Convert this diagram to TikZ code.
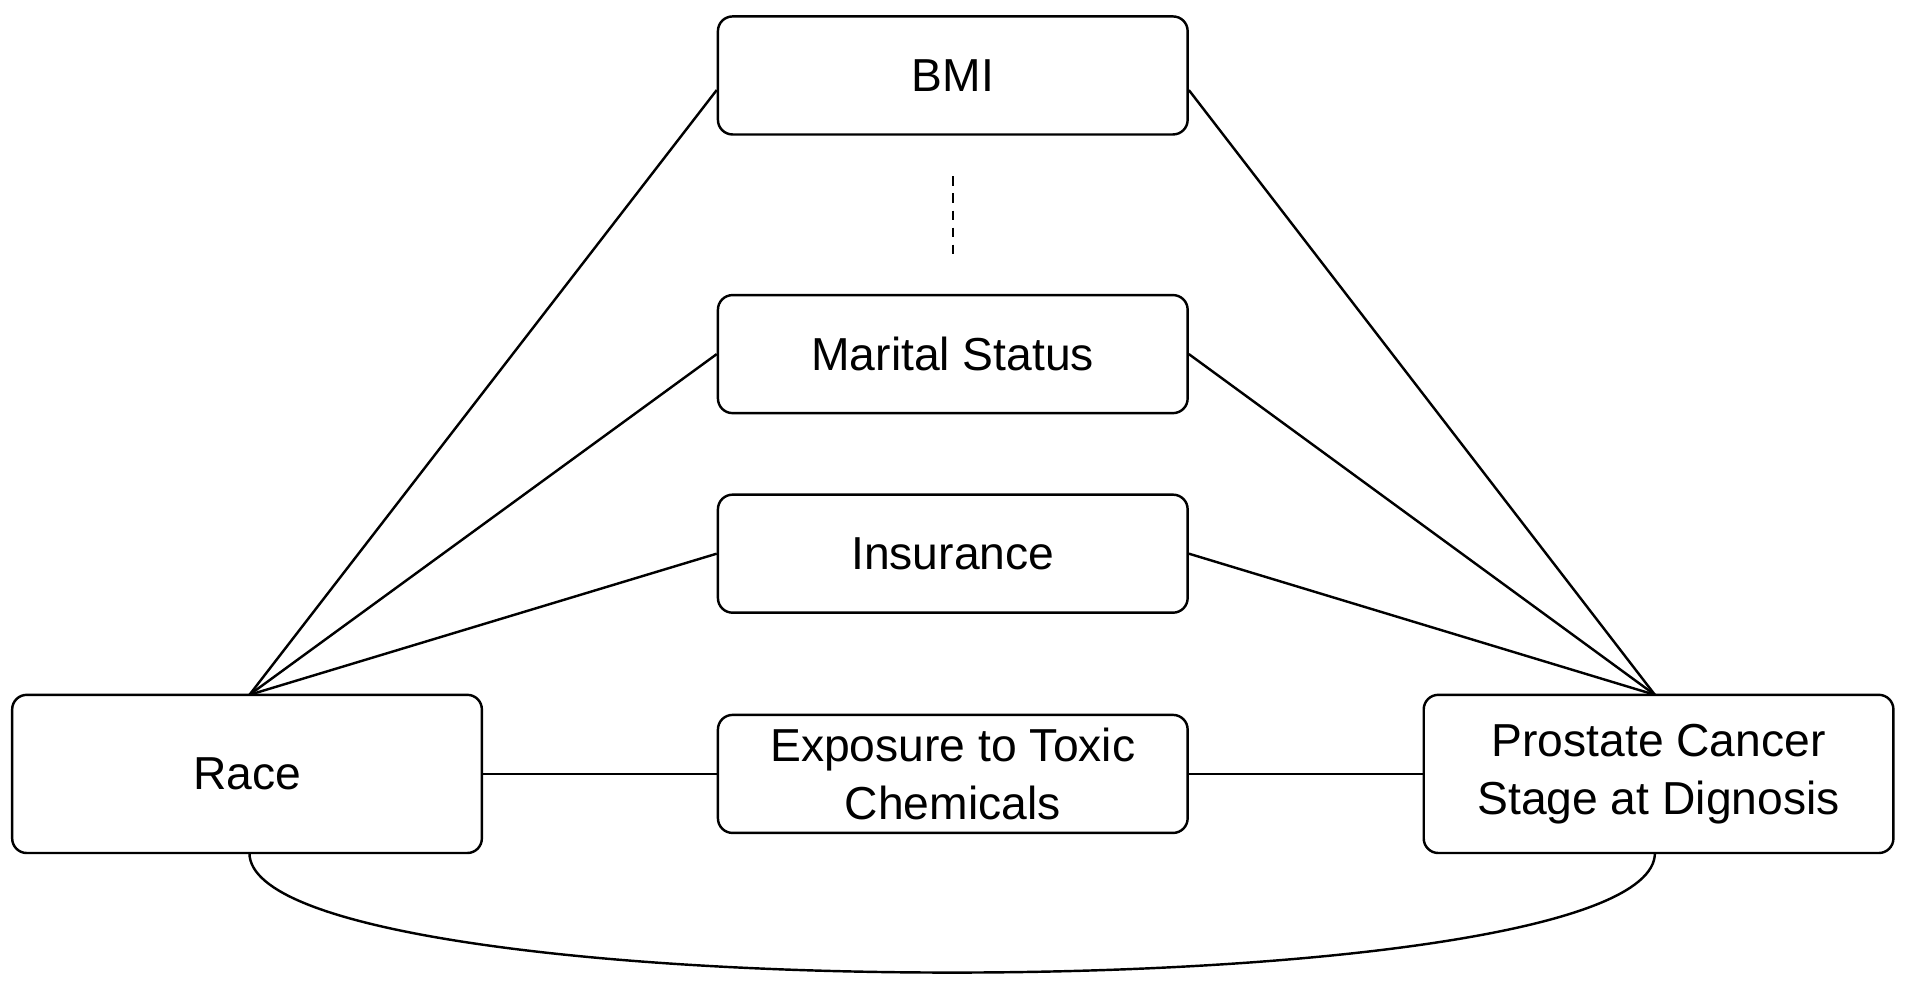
\documentclass[tikz,border=0pt]{standalone}
\usepackage{fontspec}
\setmainfont{Liberation Sans}
\begin{document}
\begin{tikzpicture}[x=1pt,y=-1pt,
  box/.style={draw,line width=2pt,rounded corners=12pt,minimum width=386pt,minimum height=97pt,inner sep=2pt,align=center,font=\fontsize{38}{48}\selectfont},
  big/.style={box,minimum height=130pt},
  ln/.style={line width=2pt}]
\useasboundingbox (0,0) rectangle (1568,812);
\node[box] (bmi) at (783,62) {BMI};
\node[box] (mar) at (783,291) {Marital Status};
\node[box] (ins) at (783,455) {Insurance};
\node[box] (exp) at (783,636) {Exposure to Toxic\\Chemicals};
\node[big] (race) at (203,636) {Race};
\node[big] (pc) at (1363,636) {Prostate Cancer\\Stage at Dignosis};
\coordinate (d1) at (783,145);
\coordinate (d2) at (783,212);
\draw[ln,dash pattern=on 8pt off 6pt] (d1) -- (d2);
\coordinate (rt) at (205,571);
\coordinate (pt) at (1360,571);
\draw[ln] (rt) -- ([yshift=-12pt]bmi.west);
\draw[ln] (rt) -- (mar.west);
\draw[ln] (rt) -- (ins.west);
\draw[ln] (pt) -- ([yshift=-12pt]bmi.east);
\draw[ln] (pt) -- (mar.east);
\draw[ln] (pt) -- (ins.east);
\draw[ln] (race) -- (exp);
\draw[ln] (exp) -- (pc);
\draw[ln] (205,701) .. controls (205,832) and (1360,832) .. (1360,701);
\end{tikzpicture}
\end{document}
